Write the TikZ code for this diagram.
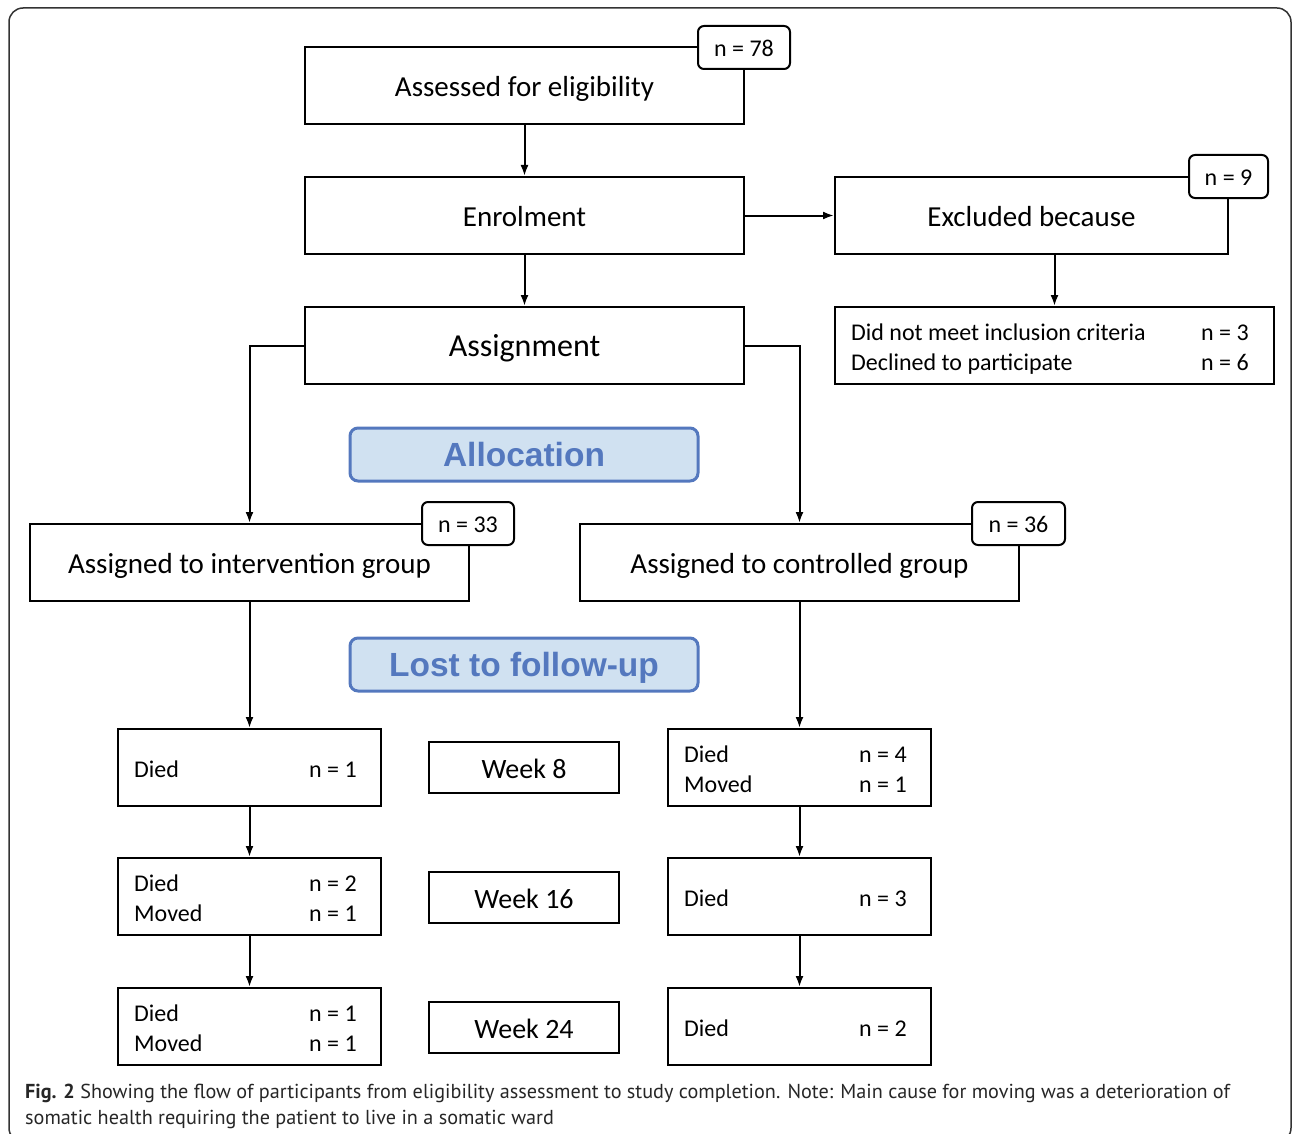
\documentclass[tikz,border=0pt]{standalone}
\usepackage{fontspec}
\setmainfont{Carlito}
\newfontfamily\arialf{Liberation Sans}
\newfontfamily\capf{PT Sans}
\usetikzlibrary{arrows.meta,calc}
\definecolor{blueC}{HTML}{5478BE}
\definecolor{blueF}{HTML}{D0E1F1}
\tikzset{
  box/.style={draw, line width=2pt, fill=white, inner sep=0pt, minimum width=439pt, minimum height=77pt, text height=22pt, text depth=0pt, font=\fontsize{29}{34}\selectfont},
  lbox/.style={draw, line width=2pt, fill=white, inner sep=0pt, minimum width=263pt, minimum height=77pt},
  wbox/.style={draw, line width=2pt, fill=white, inner sep=0pt, minimum width=190pt, minimum height=51pt, text height=21pt, text depth=0pt, font=\fontsize{28}{32}\selectfont},
  nbox/.style={draw, line width=2pt, fill=white, inner sep=0pt, rounded corners=6pt, minimum width=92pt, minimum height=43pt, text height=18.4pt, text depth=0pt, font=\fontsize{24}{28}\selectfont},
  bluebox/.style={draw=blueC, line width=3pt, fill=blueF, rounded corners=8pt, inner sep=0pt, minimum width=348pt, minimum height=53pt, text height=24.4pt, text depth=0pt, text=blueC, font=\arialf\bfseries\fontsize{33.5}{38}\selectfont},
  ltxt/.style={anchor=west, inner sep=0pt, yshift=-3.5pt, font=\fontsize{24}{30}\selectfont},
  arr/.style={line width=2pt, -{Latex[length=11pt,width=8pt]}},
  captxt/.style={anchor=base west, inner sep=0pt, font=\capf\fontsize{20.2}{26}\selectfont, text=black!85}
}
\begin{document}
\begin{tikzpicture}[x=1pt,y=-1pt]
\useasboundingbox (0,0) rectangle (1292,1134);
\draw[black!80, line width=1.5pt, rounded corners=14pt] (9,8) rectangle (1291,1142);

% main boxes
\node[box] (assess) at (524.5,85.5) {Assessed for eligibility};
\node[nbox] (n78) at (744,47.5) {n = 78};
\node[box] (enrol) at (524.5,215.5) {Enrolment};
\node[box, minimum width=393pt] (excl) at (1031.5,215.5) {Excluded because};
\node[nbox, minimum width=79pt] (n9) at (1228.5,176.5) {n = 9};
\node[box] (notmet) at (1054.5,345.5) {};
\node[ltxt] (notmett) at ($(notmet.west)+(17,0)$) {\begin{tabular}{@{}p{350pt}@{}l@{}}Did not meet inclusion criteria & n = 3\\ Declined to participate & n = 6\end{tabular}};
\node[box, font=\fontsize{32}{36}\selectfont] (assign) at (524.5,345.5) {Assignment};

\node[bluebox] (alloc) at (524,454.5) {Allocation};

\node[box] (interv) at (249.5,562.5) {Assigned to intervention group};
\node[nbox] (n33) at (468,523.5) {n = 33};
\node[box] (ctrl) at (799.5,562.5) {Assigned to controlled group};
\node[nbox, minimum width=93pt] (n36) at (1018.5,523.5) {n = 36};

\node[bluebox] (lost) at (524,664.5) {Lost to follow-up};

% left column
\node[lbox] (l1) at (249.5,767.5) {};
\node[ltxt] (l1t) at ($(l1.west)+(17,0)$) {\begin{tabular}{@{}p{175pt}@{}l@{}}Died & n = 1\end{tabular}};
\node[lbox] (l2) at (249.5,896.5) {};
\node[ltxt] (l2t) at ($(l2.west)+(17,0)$) {\begin{tabular}{@{}p{175pt}@{}l@{}}Died & n = 2\\ Moved & n = 1\end{tabular}};
\node[lbox] (l3) at (249.5,1026.5) {};
\node[ltxt] (l3t) at ($(l3.west)+(17,0)$) {\begin{tabular}{@{}p{175pt}@{}l@{}}Died & n = 1\\ Moved & n = 1\end{tabular}};

% weeks
\node[wbox] (w8) at (524,767.5) {Week 8};
\node[wbox] (w16) at (524,897.5) {Week 16};
\node[wbox] (w24) at (524,1027.5) {Week 24};

% right column
\node[lbox] (r1) at (799.5,767.5) {};
\node[ltxt] (r1t) at ($(r1.west)+(17,0)$) {\begin{tabular}{@{}p{175pt}@{}l@{}}Died & n = 4\\ Moved & n = 1\end{tabular}};
\node[lbox] (r2) at (799.5,896.5) {};
\node[ltxt] (r2t) at ($(r2.west)+(17,0)$) {\begin{tabular}{@{}p{175pt}@{}l@{}}Died & n = 3\end{tabular}};
\node[lbox] (r3) at (799.5,1026.5) {};
\node[ltxt] (r3t) at ($(r3.west)+(17,0)$) {\begin{tabular}{@{}p{175pt}@{}l@{}}Died & n = 2\end{tabular}};

% connectors
\draw[arr] (assess) -- (enrol);
\draw[arr] (enrol) -- (excl);
\draw[arr] (notmet.north |- excl.south) -- (notmet.north);
\draw[arr] (enrol) -- (assign);
\draw[arr] (assign.west) -| (interv.north);
\draw[arr] (assign.east) -| (ctrl.north);
\draw[arr] (interv) -- (l1);
\draw[arr] (l1) -- (l2);
\draw[arr] (l2) -- (l3);
\draw[arr] (ctrl) -- (r1);
\draw[arr] (r1) -- (r2);
\draw[arr] (r2) -- (r3);

% caption
\node[captxt] (cap1) at (25,1098) {\textbf{Fig. 2} Showing the flow of participants from eligibility assessment to study completion. Note: Main cause for moving was a deterioration of};
\node[captxt] (cap2) at (25,1124) {somatic health requiring the patient to live in a somatic ward};
\end{tikzpicture}
\end{document}
